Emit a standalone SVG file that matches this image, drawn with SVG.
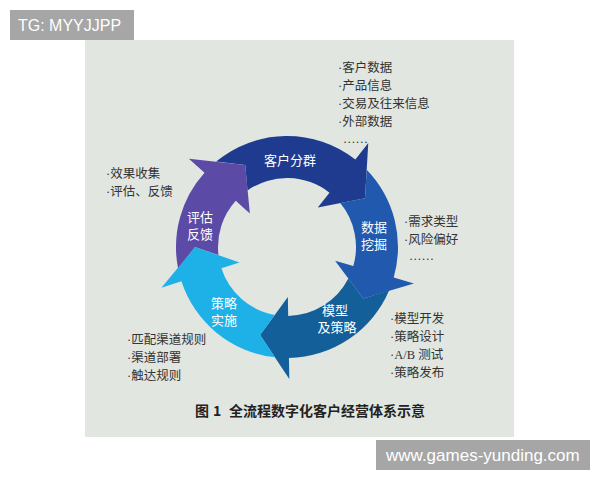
<svg xmlns="http://www.w3.org/2000/svg" width="600" height="480" viewBox="0 0 600 480">
  <style>
    .lbl { font-family: "Liberation Sans", "Noto Sans CJK SC", sans-serif; font-size: 13px; fill: #ffffff; text-anchor: middle; }
    .note { font-family: "Liberation Serif", "Noto Sans CJK SC", serif; font-size: 12.5px; fill: #333333; }
    .tag { font-family: "Liberation Sans", "Noto Sans", sans-serif; fill: #ffffff; }
    .cap { font-family: "Noto Sans CJK SC", "Noto Sans", sans-serif; font-size: 14px; font-weight: bold; fill: #222222; }
  </style>
  <rect x="0" y="0" width="600" height="480" fill="#ffffff"/>
  <rect id="panel" x="85" y="40" width="429" height="397" fill="#e1e6e0"/>

  <g id="tg-label">
    <rect x="10" y="10" width="124" height="30" fill="#a6a6a6"/>
    <text class="tag" x="18" y="31" font-size="16">TG: MYYJJPP</text>
  </g>

  <g id="connectors"></g>

  <g id="node-kehu-fenqun">
    <path fill="#1f3b8f" d="M216.09,161.60 A111,111 0 0 1 355.34,159.53 L368.27,142.98 L365.02,198.25 L317.79,207.60 L329.48,192.63 A69,69 0 0 0 247.53,190.41 L245.23,165.03 Z"/>
    <text class="lbl" x="290" y="165">客户分群</text>
  </g>

  <g id="node-shuju-wajue">
    <path fill="#2159ae" d="M366.71,169.76 A111,111 0 0 1 393.70,277.59 L413.89,283.38 L363.27,298.45 L335.07,260.78 L353.33,266.02 A69,69 0 0 0 340.24,203.11 L365.02,198.25 Z"/>
    <text class="lbl" x="374" y="232">数据</text>
    <text class="lbl" x="374" y="249">挖掘</text>
  </g>

  <g id="node-moxing-celue">
    <path fill="#135f99" d="M389.10,290.55 A111,111 0 0 1 288.94,357.98 L289.30,378.98 L260.10,334.98 L287.87,296.99 L288.20,315.99 A69,69 0 0 0 348.34,278.60 L363.27,298.45 Z"/>
    <text class="lbl" x="335" y="315">模型</text>
    <text class="lbl" x="337" y="332">及策略</text>
  </g>

  <g id="node-celue-shishi">
    <path fill="#1eb1e8" d="M275.20,357.37 A111,111 0 0 1 181.43,281.30 L161.45,287.79 L195,247 L239.45,262.45 L221.38,268.32 A69,69 0 0 0 274.72,314.90 L260.10,334.98 Z"/>
    <text class="lbl" x="224" y="308">策略</text>
    <text class="lbl" x="224" y="325">实施</text>
  </g>

  <g id="node-pinggu-fankui">
    <path fill="#5b4aa6" d="M178.00,267.99 A111,111 0 0 1 204.52,172.73 L188.91,158.68 L245.23,165.03 L249.84,213.54 L235.73,200.83 A69,69 0 0 0 218.48,255.11 L195,247 Z"/>
    <text class="lbl" x="200" y="222">评估</text>
    <text class="lbl" x="200" y="239">反馈</text>
  </g>

  <g id="notes-kehu">
    <text class="note" x="338" y="72">·客户数据</text>
    <text class="note" x="338" y="90">·产品信息</text>
    <text class="note" x="338" y="108">·交易及往来信息</text>
    <text class="note" x="338" y="126">·外部数据</text>
    <text class="note" x="343" y="143">……</text>
  </g>

  <g id="notes-wajue">
    <text class="note" x="404" y="226">·需求类型</text>
    <text class="note" x="404" y="244">·风险偏好</text>
    <text class="note" x="409" y="260">……</text>
  </g>

  <g id="notes-moxing">
    <text class="note" x="390" y="323">·模型开发</text>
    <text class="note" x="390" y="341">·策略设计</text>
    <text class="note" x="390" y="359">·A/B 测试</text>
    <text class="note" x="390" y="377">·策略发布</text>
  </g>

  <g id="notes-shishi">
    <text class="note" x="127" y="344">·匹配渠道规则</text>
    <text class="note" x="127" y="362">·渠道部署</text>
    <text class="note" x="127" y="380">·触达规则</text>
  </g>

  <g id="notes-pinggu">
    <text class="note" x="106" y="178">·效果收集</text>
    <text class="note" x="106" y="196">·评估、反馈</text>
  </g>

  <g id="caption">
    <text class="cap" x="195" y="416">图</text>
    <text class="cap" x="213" y="416">1</text>
    <text class="cap" x="229" y="416">全流程数字化客户经营体系示意</text>
  </g>

  <g id="watermark">
    <rect x="376" y="440" width="214" height="30" fill="#a6a6a6"/>
    <text class="tag" x="386" y="461" font-size="17">www.games-yunding.com</text>
  </g>
</svg>
